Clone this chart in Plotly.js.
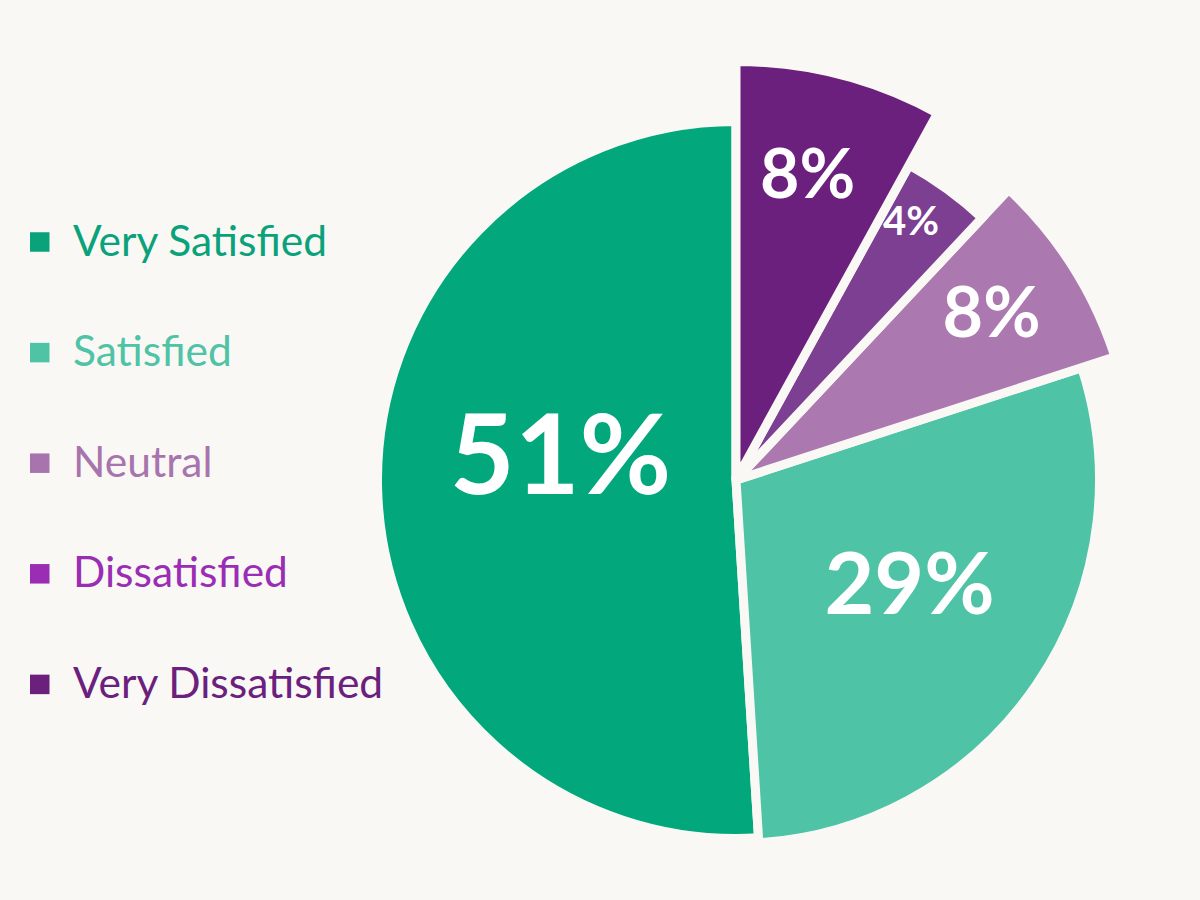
<!DOCTYPE html>
<html>
<head>
<meta charset="utf-8">
<script src="https://cdn.plot.ly/plotly-3.0.1.min.js"></script>
<style>html,body{margin:0;padding:0;background:#f9f8f4;}#chart{width:1200px;height:900px;}</style>
</head>
<body>
<div id="chart"></div>
<script>
// ---- data ----
const categories = ['Very Satisfied', 'Satisfied', 'Neutral', 'Dissatisfied', 'Very Dissatisfied'];
const percentValues = [51, 29, 8, 4, 8];

// ---- styles ----
const sliceColors = ['#02a87b', '#4fc3a5', '#ab78b0', '#7d3f92', '#6b207e'];
const legendColors = ['#0aa27a', '#4fc3a5', '#a874ad', '#9b2db4', '#6b207e'];
const sliceRadius = [358.5, 363.5, 398.5, 359.5, 418.5];   // outer radius (explode style)
const labelRadius = [176, 207, 302, 309, 307];
const labelAngleShift = [6.4, -1.2, 0.2, -1.5, -0.9];
const labelSize = [112, 86, 70, 40, 68];
const bg = '#f9f8f4';
const fontFamily = 'Lato, "Noto Sans", sans-serif';

// angles: counter-clockwise from 12 o'clock, in category order
const total = percentValues.reduce((a, b) => a + b, 0);
const widths = percentValues.map(v => v / total * 360);
const mids = [];
let cum = 0;
percentValues.forEach((v, i) => {
  mids.push(360 - (cum + v / 2) / total * 360);
  cum += v;
});

const slices = {
  type: 'barpolar',
  r: sliceRadius,
  theta: mids,
  width: widths,
  text: categories,
  marker: { color: sliceColors, line: { color: bg, width: 9 } },
  hoverinfo: 'text',
  showlegend: false
};

const labels = {
  type: 'scatterpolar',
  mode: 'text',
  r: labelRadius,
  theta: mids.map((m, i) => m + labelAngleShift[i]),
  text: percentValues.map(v => v + '%'),
  textposition: 'middle center',
  textfont: { family: fontFamily, size: labelSize, color: '#ffffff', weight: 700 },
  hoverinfo: 'skip',
  showlegend: false
};

// legend built from categories
const legendTop = 242, legendStep = 110.6;
const annotations = categories.map((c, i) => ({
  xref: 'paper', yref: 'paper',
  x: 71 / 1200, y: 1 - (legendTop - 3 + i * legendStep) / 900,
  xanchor: 'left', yanchor: 'middle',
  text: c, showarrow: false,
  font: { family: fontFamily, size: 42.5, color: legendColors[i] }
}));
const shapes = categories.map((c, i) => {
  const cy = legendTop + i * legendStep;
  return {
    type: 'rect', xref: 'paper', yref: 'paper',
    x0: 30 / 1200, x1: 49.5 / 1200,
    y0: 1 - (cy - 9.75) / 900, y1: 1 - (cy + 9.75) / 900,
    fillcolor: legendColors[i], line: { width: 0 }
  };
});

const layout = {
  width: 1200, height: 900,
  margin: { l: 0, r: 0, t: 0, b: 0 },
  paper_bgcolor: bg, plot_bgcolor: bg,
  showlegend: false,
  polar: {
    domain: { x: [(736 - 420) / 1200, (736 + 420) / 1200], y: [0, 840 / 900] },
    bgcolor: 'rgba(0,0,0,0)',
    bargap: 0,
    radialaxis: { range: [0, 420], visible: false, showgrid: false, showline: false, ticks: '' },
    angularaxis: { visible: false, showgrid: false, showline: false, ticks: '', rotation: 90, direction: 'clockwise' }
  },
  annotations: annotations,
  shapes: shapes
};

Plotly.newPlot('chart', [slices, labels], layout, { displayModeBar: false, staticPlot: true });
</script>
</body>
</html>
